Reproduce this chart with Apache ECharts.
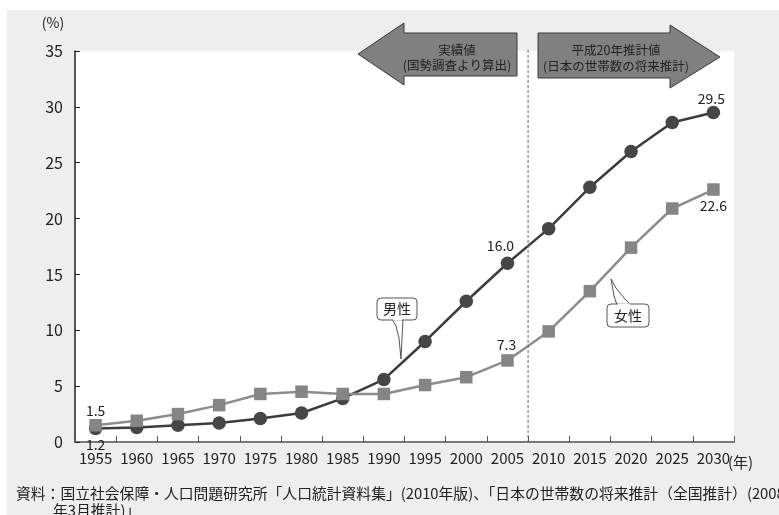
<!DOCTYPE html>
<html>
<head>
<meta charset="utf-8">
<script src="https://cdn.jsdelivr.net/npm/echarts@6/dist/echarts.min.js"></script>
<style>
  html, body { margin: 0; padding: 0; background: #fff; }
  #chart { width: 779px; height: 515px; }
</style>
</head>
<body>
<div id="chart"></div>
<script>
// 生涯未婚率の推移（男女別）
const years = ['1955', '1960', '1965', '1970', '1975', '1980', '1985', '1990',
               '1995', '2000', '2005', '2010', '2015', '2020', '2025', '2030'];
const maleRate   = [1.2, 1.3, 1.5, 1.7, 2.1, 2.6, 3.9, 5.6, 9.0, 12.6, 16.0, 19.1, 22.8, 26.0, 28.6, 29.5];
const femaleRate = [1.5, 1.9, 2.5, 3.3, 4.3, 4.5, 4.3, 4.3, 5.1, 5.8, 7.3, 9.9, 13.5, 17.4, 20.9, 22.6];

// 値を表示する点: [index, position, distance, offsetX]
const maleLabels   = [[0, 'bottom', 2, 0], [10, 'top', 4, -7], [15, 'top', 0, -2]];
const femaleLabels = [[0, 'top', 1, 0], [10, 'top', 3, -1], [15, 'bottom', 3, 0]];

const yMin = 0, yMax = 35, yStep = 5;
const FONT = '"Noto Sans CJK JP", "Noto Sans", sans-serif';
const TEXT = '#222';

function withLabels(values, labels) {
  return values.map((v, i) => {
    const l = labels.find(x => x[0] === i);
    if (!l) return v;
    return {
      value: v,
      label: {
        show: true, position: l[1], distance: l[2], offset: [l[3], 0],
        formatter: p => p.value.toFixed(1),
        fontSize: 14, color: TEXT, fontFamily: FONT
      }
    };
  });
}

const chart = echarts.init(document.getElementById('chart'), null, { renderer: 'canvas' });

function txt(id, x, y, text, size, align, z) {
  return { type: 'text', id: id, x: x, y: y, z: z || 1,
    style: { text: text, font: size + 'px ' + FONT, fill: TEXT, textAlign: align, textVerticalAlign: 'middle' } };
}

function staticGraphics(dividerX) {
  const g = [
    // 外枠の白い余白
    { type: 'rect', id: 'padTop', shape: { x: 0, y: 0, width: 779, height: 10 }, style: { fill: '#fff' }, silent: true },
    { type: 'rect', id: 'padLeft', shape: { x: 0, y: 0, width: 7, height: 515 }, style: { fill: '#fff' }, silent: true },
    // 単位
    txt('unitY', 53, 23, '(%)', 14, 'center'),
    txt('unitX', 728, 462, '(年)', 15, 'left'),
    // 左向き矢印：実績値
    { type: 'polygon', id: 'arrowL', z: 10,
      shape: { points: [[358, 54], [404, 23], [404, 33], [517, 33], [517, 76], [404, 76], [404, 85]] },
      style: { fill: '#808080', stroke: '#3a3a3a', lineWidth: 1 } },
    txt('arrowLt1', 457, 50, '実績値', 12.5, 'center', 11),
    txt('arrowLt2', 457, 65, '(国勢調査より算出)', 12.5, 'center', 11),
    // 右向き矢印：推計値
    { type: 'polygon', id: 'arrowR', z: 10,
      shape: { points: [[538, 33], [670, 33], [670, 25], [720, 57], [670, 88], [670, 78], [538, 78]] },
      style: { fill: '#808080', stroke: '#3a3a3a', lineWidth: 1 } },
    txt('arrowRt1', 616, 50, '平成20年推計値', 12.5, 'center', 11),
    txt('arrowRt2', 616, 66, '(日本の世帯数の将来推計)', 12.5, 'center', 11),
    // 吹き出し：男性
    { type: 'polygon', id: 'tailM', z: 20,
      shape: { points: [[392, 319], [396, 326], [399, 338], [401, 359], [403, 319]] },
      style: { fill: '#fff', stroke: '#555', lineWidth: 1 } },
    { type: 'rect', id: 'boxM', z: 21, shape: { x: 377, y: 298, width: 40, height: 22, r: 4 }, style: { fill: '#fff', stroke: '#555', lineWidth: 1 } },
    { type: 'rect', id: 'boxMfix', z: 22, shape: { x: 393, y: 318, width: 9, height: 2.5 }, style: { fill: '#fff' } },
    txt('boxMt', 397, 309, '男性', 14, 'center', 23),
    // 吹き出し：女性
    { type: 'polygon', id: 'tailF', z: 20,
      shape: { points: [[617, 305], [614, 296], [611, 279], [616, 288], [624, 298], [631, 305]] },
      style: { fill: '#fff', stroke: '#555', lineWidth: 1 } },
    { type: 'rect', id: 'boxF', z: 21, shape: { x: 607, y: 304, width: 42, height: 23, r: 4 }, style: { fill: '#fff', stroke: '#555', lineWidth: 1 } },
    { type: 'rect', id: 'boxFfix', z: 22, shape: { x: 618, y: 303.5, width: 12, height: 2.5 }, style: { fill: '#fff' } },
    txt('boxFt', 628, 315.5, '女性', 14, 'center', 23),
    // 資料
    txt('src1', 16, 493, '資料：国立社会保障・人口問題研究所「人口統計資料集」(2010年版)、「日本の世帯数の将来推計（全国推計）(2008', 14.8, 'left'),
    txt('src2', 53, 510, '年3月推計)」', 14.8, 'left')
  ];
  if (dividerX != null) {
    g.push({ type: 'line', id: 'divider', z: 5,
      shape: { x1: dividerX, y1: 50, x2: dividerX, y2: 442 },
      style: { stroke: '#666', lineWidth: 1, lineDash: [3, 2] } });
  }
  return g;
}

chart.setOption({
  animation: false,
  backgroundColor: '#eeeeee',
  grid: { left: 75, right: 45, top: 51, bottom: 73, show: true, backgroundColor: '#fff', borderWidth: 0, containLabel: false },
  xAxis: {
    type: 'category', data: years, boundaryGap: true,
    axisLine: { show: true, lineStyle: { color: '#7a7a7a', width: 2 } },
    axisTick: { show: true, inside: true, length: 6, lineStyle: { color: '#555', width: 1 } },
    axisLabel: { fontSize: 15, color: TEXT, fontFamily: FONT, margin: 9, interval: 0 },
    splitLine: { show: false }
  },
  yAxis: {
    type: 'value', min: yMin, max: yMax, interval: yStep,
    axisLine: { show: true, lineStyle: { color: '#222', width: 1.5 } },
    axisTick: { show: true, inside: true, length: 5, lineStyle: { color: '#222', width: 1 } },
    axisLabel: { fontSize: 16, color: TEXT, fontFamily: FONT, margin: 12 },
    splitLine: { show: false }
  },
  series: [
    {
      name: '男性', type: 'line', z: 3,
      data: withLabels(maleRate, maleLabels),
      symbol: 'circle', symbolSize: 13.5,
      lineStyle: { color: '#3c3c3c', width: 2.5 },
      itemStyle: { color: '#464646' }
    },
    {
      name: '女性', type: 'line', z: 4,
      data: withLabels(femaleRate, femaleLabels),
      symbol: 'rect', symbolSize: 12.5,
      lineStyle: { color: '#8c8c8c', width: 2.5 },
      itemStyle: { color: '#858585' }
    }
  ],
  graphic: staticGraphics(null)
});

// 実績値と推計値の境界（2005年と2010年の間）
const x2005 = chart.convertToPixel({ xAxisIndex: 0 }, '2005');
const x2010 = chart.convertToPixel({ xAxisIndex: 0 }, '2010');
chart.setOption({ graphic: staticGraphics((x2005 + x2010) / 2) });
</script>
</body>
</html>
